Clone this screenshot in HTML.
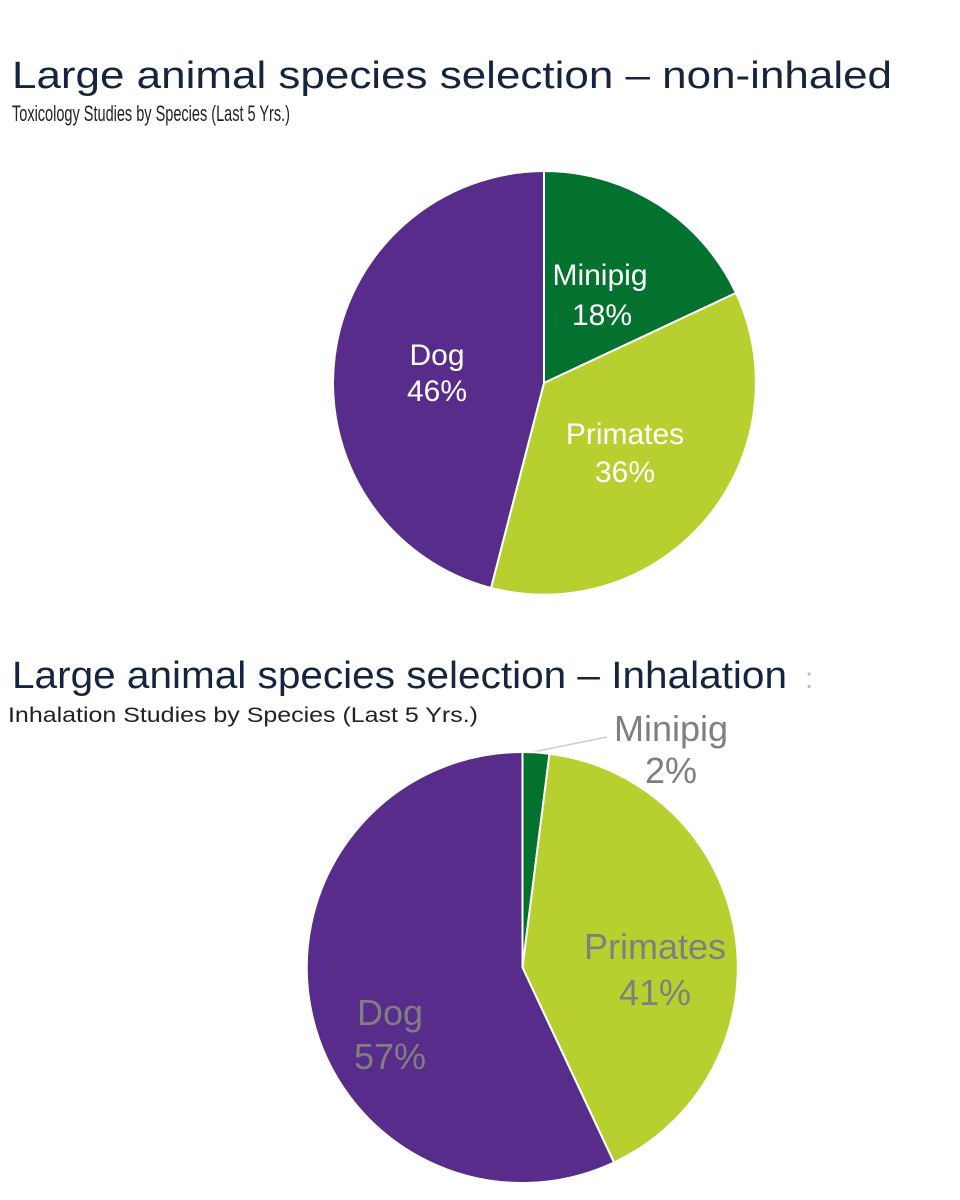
<!DOCTYPE html>
<html><head><meta charset="utf-8"><style>
html,body{margin:0;padding:0;background:#fff;width:960px;height:1200px;overflow:hidden;font-family:"Liberation Sans",sans-serif;}
</style></head><body>
<svg width="960" height="1200" viewBox="0 0 960 1200" xmlns="http://www.w3.org/2000/svg" font-family="Liberation Sans, sans-serif">
<text x="12" y="88" font-size="38" fill="#152540" textLength="880" lengthAdjust="spacingAndGlyphs">Large animal species selection – non-inhaled</text>
<text x="12" y="121" font-size="22" fill="#222" textLength="278" lengthAdjust="spacingAndGlyphs">Toxicology Studies by Species (Last 5 Yrs.)</text>
<g stroke="#fff" stroke-width="2">
<path d="M544,383 L544,171 A212,212 0 0 1 736,293 Z" fill="#04722f"/>
<path d="M544,383 L736,293 A212,212 0 0 1 491,588 Z" fill="#b7d030"/>
<path d="M544,383 L491,588 A212,212 0 0 1 544,171 Z" fill="#582c8b"/>
</g>
<g font-size="30" fill="#fff" text-anchor="middle">
<text x="600" y="285">Minipig</text><text x="602" y="325">18%</text>
<text x="437" y="365">Dog</text><text x="437" y="401">46%</text>
<text x="625" y="444">Primates</text><text x="625" y="482">36%</text>
</g>
<text x="12" y="688" font-size="38" fill="#152540" textLength="775" lengthAdjust="spacingAndGlyphs">Large animal species selection – Inhalation</text>
<text x="805" y="688" font-size="30" fill="#bbb">:</text>
<text x="8" y="722" font-size="21" fill="#222" textLength="470" lengthAdjust="spacingAndGlyphs">Inhalation Studies by Species (Last 5 Yrs.)</text>
<line x1="533" y1="752" x2="607" y2="737" stroke="#ccc" stroke-width="1.5"/>
<g stroke="#fff" stroke-width="2">
<path d="M522.5,967.5 L522.5,752 A215.5,215.5 0 0 1 549.5,753.7 Z" fill="#04722f"/>
<path d="M522.5,967.5 L549.5,753.7 A215.5,215.5 0 0 1 614,1162.5 Z" fill="#b7d030"/>
<path d="M522.5,967.5 L614,1162.5 A215.5,215.5 0 1 1 522.5,752 Z" fill="#582c8b"/>
</g>
<g font-size="36" fill="#7f7f7f" text-anchor="middle">
<text x="671" y="741">Minipig</text><text x="671" y="783">2%</text>
<text x="655" y="959">Primates</text><text x="655" y="1005">41%</text>
<text x="390" y="1025">Dog</text><text x="390" y="1069">57%</text>
</g>
</svg>
</body></html>
